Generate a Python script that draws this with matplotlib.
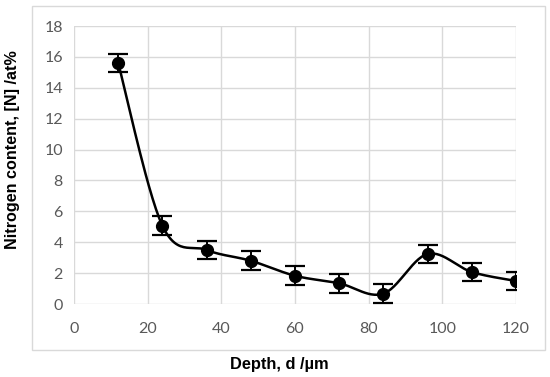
import numpy as np
import matplotlib
matplotlib.use("Agg")
import matplotlib.pyplot as plt
from matplotlib.patches import Rectangle

# data
depth = [12, 24, 36, 48, 60, 72, 84, 96, 108, 120]
nitrogen = [15.6, 5.07, 3.5, 2.8, 1.83, 1.34, 0.67, 3.24, 2.07, 1.49]
err = [0.6, 0.6, 0.6, 0.6, 0.6, 0.6, 0.6, 0.6, 0.6, 0.6]
xticks = [0, 20, 40, 60, 80, 100, 120]
yticks = [0, 2, 4, 6, 8, 10, 12, 14, 16, 18]

GRID = "#d9d9d9"
TICK = "#595959"


def smooth(x, y, n=30):
    # Excel-style smoothed line: Catmull-Rom bezier segments
    x = np.asarray(x, float); y = np.asarray(y, float)
    px = np.concatenate([[x[0]], x, [x[-1]]])
    py = np.concatenate([[y[0]], y, [y[-1]]])
    t = np.linspace(0, 1, n)[:, None]
    xs, ys = [], []
    for i in range(1, len(px) - 2):
        p0 = np.array([px[i], py[i]]); p3 = np.array([px[i + 1], py[i + 1]])
        p1 = p0 + (np.array([px[i + 1], py[i + 1]]) - np.array([px[i - 1], py[i - 1]])) / 6
        p2 = p3 - (np.array([px[i + 2], py[i + 2]]) - np.array([px[i], py[i]])) / 6
        b = ((1 - t) ** 3) * p0 + 3 * ((1 - t) ** 2) * t * p1 + 3 * (1 - t) * t ** 2 * p2 + t ** 3 * p3
        xs.append(b[:, 0]); ys.append(b[:, 1])
    return np.concatenate(xs), np.concatenate(ys)


fig = plt.figure(figsize=(5.5, 3.77), dpi=100)
fig.patches.append(Rectangle((32 / 550, 1 - 350 / 377), 513 / 550, 344 / 377,
                             transform=fig.transFigure, fill=False,
                             edgecolor=GRID, lw=1.0))
ax = fig.add_axes([74 / 550, 1 - 304 / 377, 442 / 550, 278 / 377])

sx, sy = smooth(depth, nitrogen)
ax.plot(sx, sy, color="black", lw=1.8, zorder=3)
ax.errorbar(depth, nitrogen, yerr=err, fmt="o", color="black", ms=8.5,
            elinewidth=1.4, capsize=7.5, capthick=1.6, zorder=4)

ax.set_xlim(0, 120); ax.set_ylim(0, 18)
ax.set_xticks(xticks); ax.set_yticks(yticks)
ax.grid(True, color=GRID, lw=1.0)
ax.set_axisbelow(True)
for s in ax.spines.values():
    s.set_visible(False)
ax.tick_params(length=0, labelsize=11.5, labelcolor=TICK, pad=8)
for lab in ax.get_xticklabels() + ax.get_yticklabels():
    lab.set_family("Lato")
ax.tick_params(axis="x", pad=13)

fig.text(279 / 550, 1 - 365 / 377, "Depth, d /\u00b5m", ha="center", va="center",
         fontsize=11.8, fontweight="bold", family="Liberation Sans")
fig.text(13 / 550, 1 - 150 / 377, "Nitrogen content, [N] /at%", ha="center", va="center",
         rotation=90, fontsize=11.6, fontweight="bold", family="Liberation Sans")

fig.savefig("out.png", dpi=100)
